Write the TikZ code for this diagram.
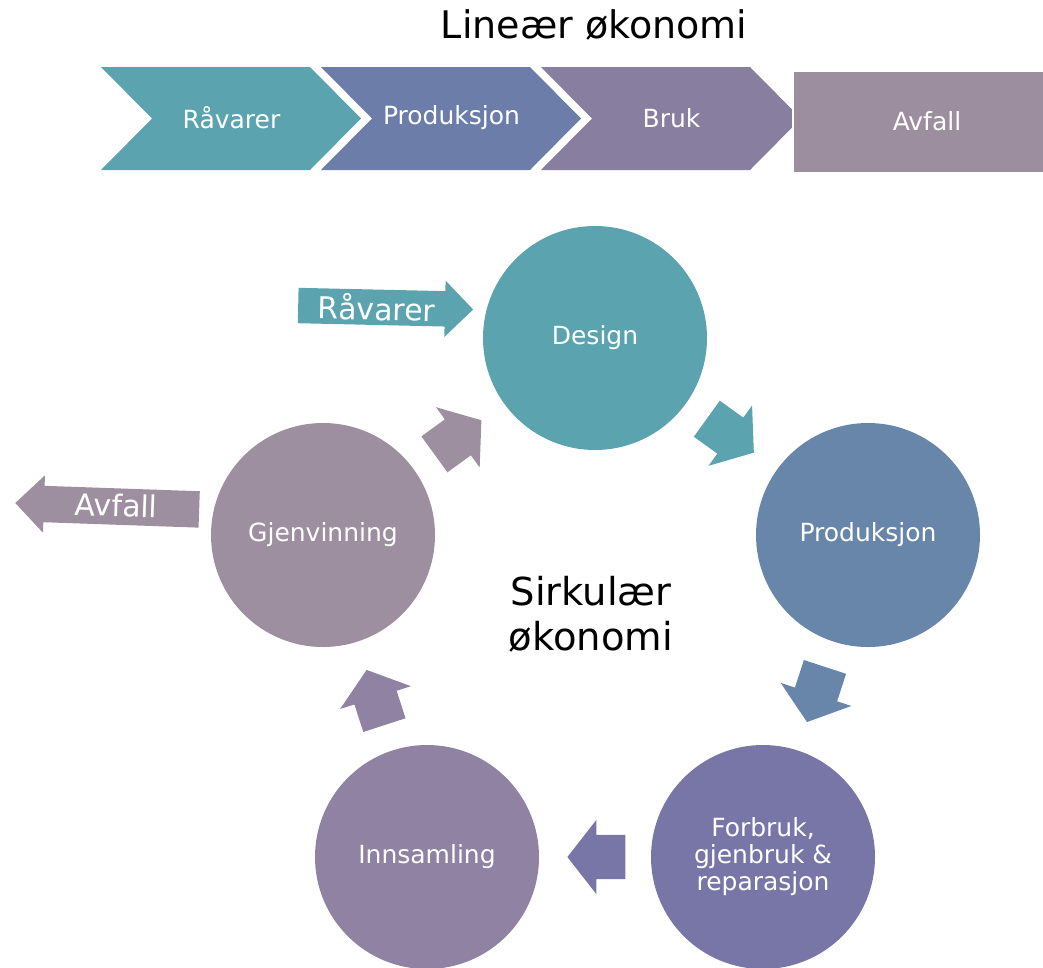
\documentclass[tikz,border=0pt]{standalone}
\usepackage{fontspec}
\setmainfont{DejaVu Sans}
\usetikzlibrary{shapes.arrows}

\definecolor{cTeal}{HTML}{5BA3AE}
\definecolor{cProdTop}{HTML}{6B7DA8}
\definecolor{cProd}{HTML}{6886A9}
\definecolor{cBruk}{HTML}{877EA0}
\definecolor{cAvfall}{HTML}{9C8E9F}
\definecolor{cForbruk}{HTML}{7776A6}
\definecolor{cInnsamling}{HTML}{8F82A2}
\definecolor{cGjenv}{HTML}{9D8FA0}

\tikzset{
    flowtext/.style={text=white, font=\fontsize{25}{29}\selectfont},
    stage/.style={circle, minimum size=224pt, inner sep=0pt, text=white,
        align=center, font=\fontsize{25}{27}\selectfont},
    looparrow/.style={single arrow, minimum height=58pt, inner ysep=22pt,
        inner xsep=0pt, text height=0pt, text depth=0pt,
        single arrow head extend=15pt, single arrow tip angle=104,
        sloped, allow upside down, pos=0.41},
    sidearrow/.style={single arrow, text=white, inner xsep=0pt,
        single arrow tip angle=90, font=\fontsize{30}{34}\selectfont}
}

\begin{document}
\begin{tikzpicture}[x=1pt, y=-1pt]
    \useasboundingbox (0,0) rectangle (1043,967);

    % linear economy
    \node[anchor=base, font=\fontsize{38}{42}\selectfont] (ltitle) at (594,38) {Lineær økonomi};

    \foreach \L/\col/\name/\txt in {101/cTeal/lraw/Råvarer, 321/cProdTop/lprod/Produksjon, 541/cBruk/luse/Bruk}{
        \fill[\col] (\L,67) -- ++(209,0) -- ++(51,51.5) -- ++(-51,51.5) -- ++(-209,0) -- ++(51,-51.5) -- cycle;
        \node[flowtext] (\name) at (\L+130.5,118) {\txt};
    }
    \filldraw[fill=cAvfall, draw=white, line width=2pt] (793,71) rectangle (1050,173);
    \node[flowtext] (lwaste) at (927,121) {Avfall};

    % circular economy
    \node[stage, fill=cTeal] (design) at (595,338) {Design};
    \node[stage, fill=cProd] (prod) at (868,535) {Produksjon};
    \node[stage, fill=cForbruk] (forbruk) at (763,857) {Forbruk,\\gjenbruk \&\\reparasjon};
    \node[stage, fill=cInnsamling] (innsamling) at (427,857) {Innsamling};
    \node[stage, fill=cGjenv] (gjenv) at (323,535) {Gjenvinning};

    \node[align=center, font=\fontsize{38.5}{45}\selectfont] (ctitle) at (591,614) {Sirkulær\\økonomi};

    \path (design) -- (prod) node[looparrow, fill=cTeal] (a1) {};
    \path (prod) -- (forbruk) node[looparrow, fill=cProd] (a2) {};
    \path (forbruk) -- (innsamling) node[looparrow, fill=cForbruk] (a3) {};
    \path (innsamling) -- (gjenv) node[looparrow, fill=cInnsamling] (a4) {};
    \path (gjenv) -- (design) node[looparrow, fill=cGjenv] (a5) {};

    % in and out
    \node[sidearrow, fill=cTeal, anchor=tail, rotate=-1.3, minimum height=175pt,
        text height=30pt, text depth=4pt, inner ysep=0.5pt,
        single arrow head extend=10.5pt] (rawin) at (298,305.5) {Råvarer\hspace{10pt}};
    \node[sidearrow, fill=cGjenv, shape border rotate=180, anchor=tip, rotate=-2,
        minimum height=184pt, text height=27pt, text depth=7pt, inner ysep=1pt,
        single arrow head extend=10.5pt] (wasteout) at (15,503) {Avfall};
\end{tikzpicture}
\end{document}
